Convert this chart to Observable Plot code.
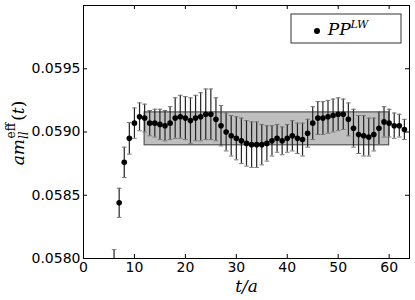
<!DOCTYPE html>
<html>
<head>
<meta charset="utf-8">
<script src="https://cdn.jsdelivr.net/npm/d3@7"></script>
<script src="https://cdn.jsdelivr.net/npm/@observablehq/plot@0.6"></script>
<style>
  body { margin: 0; background: white; }
</style>
</head>
<body>
<div id="chart"></div>
<script>
// Time slices t/a
const tValues = [6,7,8,9,10,11,12,13,14,15,16,17,18,19,20,21,22,23,24,25,26,27,28,29,30,31,32,33,34,35,36,37,38,39,40,41,42,43,44,45,46,47,48,49,50,51,52,53,54,55,56,57,58,59,60,61,62,63];
// Effective mass a m_ll^eff(t)
const meffValues = [0.05795,0.05844,0.05876,0.05895,0.05907,0.05912,0.05911,0.05907,0.05907,0.05906,0.05905,0.05907,0.05911,0.05912,0.05911,0.05909,0.05911,0.05912,0.05914,0.05914,0.05910,0.05905,0.05900,0.05897,0.05895,0.05893,0.05891,0.05890,0.05890,0.05890,0.05891,0.05893,0.05895,0.05893,0.05895,0.05897,0.05895,0.05894,0.05899,0.05907,0.05911,0.05911,0.05912,0.05913,0.05914,0.05914,0.05910,0.05903,0.05898,0.05897,0.05896,0.05898,0.05903,0.05908,0.05907,0.05905,0.05905,0.05902];
// Statistical errors
const errValues = [0.00012,0.000115,0.00012,0.000125,0.00012,0.00011,0.00011,0.00010,0.00011,0.00012,0.00012,0.00013,0.00016,0.00017,0.00017,0.00018,0.00018,0.00019,0.00020,0.00020,0.00017,0.00016,0.00015,0.00016,0.00017,0.00018,0.00018,0.00018,0.00018,0.00016,0.00014,0.00012,0.00011,0.00011,0.00011,0.00012,0.00012,0.00013,0.00011,0.00013,0.00013,0.00013,0.00013,0.00013,0.00013,0.00012,0.00013,0.00015,0.00015,0.00016,0.00015,0.00013,0.00013,0.00012,0.00011,0.00010,0.00009,0.00008];
// Fit band (plateau range and fitted value ± error)
const fitRange = [12, 60];
const fitValue = 0.059025;
const fitError = 0.00013;
// Axis ticks
const xTicks = [0,10,20,30,40,50,60];
const yTicks = [0.0580,0.0585,0.0590,0.0595];
const xDomain = [0, 64];
const yDomain = [0.0580, 0.0600];
const legendLabel = "PP";
const legendSup = "LW";

const data = tValues.map((t, i) => ({t, m: meffValues[i], e: errValues[i]}));
const band = [{x1: fitRange[0], x2: fitRange[1], y1: fitValue - fitError, y2: fitValue + fitError}];
const capHalf = 0.45;

const plot = Plot.plot({
  width: 415,
  height: 300,
  marginLeft: 83,
  marginRight: 6,
  marginTop: 5,
  marginBottom: 42,
  style: {fontFamily: "DejaVu Sans", fontSize: "14px", background: "white", color: "black"},
  x: {domain: xDomain, ticks: xTicks, tickFormat: d => String(d)},
  y: {domain: yDomain, ticks: yTicks, tickFormat: d => d.toFixed(4)},
  marks: [
    Plot.rect(band, {x1: "x1", x2: "x2", y1: "y1", y2: "y2", fill: "#bfbfbf", stroke: "#555", strokeWidth: 1.2}),
    Plot.ruleX(data, {x: "t", y1: d => d.m - d.e, y2: d => d.m + d.e, stroke: "#222", strokeWidth: 1.2, clip: true}),
    Plot.link(data, {x1: d => d.t - capHalf, x2: d => d.t + capHalf, y1: d => d.m + d.e, y2: d => d.m + d.e, stroke: "#777", strokeWidth: 1, clip: true}),
    Plot.link(data, {x1: d => d.t - capHalf, x2: d => d.t + capHalf, y1: d => d.m - d.e, y2: d => d.m - d.e, stroke: "#777", strokeWidth: 1, clip: true}),
    Plot.dot(data, {x: "t", y: "m", r: 2.8, fill: "black", stroke: "none", clip: true}),
    // inward ticks on all four sides
    Plot.ruleX(xTicks, {x: d => d, y1: yDomain[0], y2: yDomain[0] + 0.000032, stroke: "black"}),
    Plot.ruleX(xTicks, {x: d => d, y1: yDomain[1] - 0.000032, y2: yDomain[1], stroke: "black"}),
    Plot.ruleY(yTicks, {y: d => d, x1: xDomain[0], x2: xDomain[0] + 0.8, stroke: "black"}),
    Plot.ruleY(yTicks, {y: d => d, x1: xDomain[1] - 0.8, x2: xDomain[1], stroke: "black"}),
    Plot.axisX({ticks: xTicks, tickSize: 0, tickPadding: 4, label: null, tickFormat: d => String(d)}),
    Plot.axisY({ticks: yTicks, tickSize: 0, tickPadding: 3, label: null, tickFormat: d => d.toFixed(4)}),
    Plot.frame({stroke: "black", strokeWidth: 1}),
    Plot.text(["t/a"], {frameAnchor: "bottom", dy: 33, text: d => d, fontStyle: "italic", fontFamily: "DejaVu Serif", fontSize: 17, fill: "black"})
  ]
});

document.getElementById("chart").appendChild(plot);

const svg = d3.select(plot);
// Y axis label with subscript/superscript
const yl = svg.append("text")
  .attr("transform", "translate(24,133) rotate(-90)")
  .attr("text-anchor", "middle")
  .attr("font-family", "DejaVu Serif")
  .attr("font-size", 17)
  .attr("fill", "black");
yl.append("tspan").attr("font-style", "italic").text("am");
yl.append("tspan").attr("font-style", "italic").attr("font-size", 12).attr("dy", 4).text("ll");
yl.append("tspan").attr("font-size", 12).attr("dx", -7).attr("dy", -13).text("eff");
yl.append("tspan").attr("dy", 9).attr("dx", 2).text("(");
yl.append("tspan").attr("font-style", "italic").text("t");
yl.append("tspan").text(")");

// Legend
const lg = svg.append("g");
lg.append("rect").attr("x", 291).attr("y", 14).attr("width", 110).attr("height", 29)
  .attr("fill", "white").attr("stroke", "#333").attr("stroke-width", 1);
lg.append("circle").attr("cx", 317).attr("cy", 31).attr("r", 3).attr("fill", "black");
const lt = lg.append("text").attr("x", 348).attr("y", 35)
  .attr("font-family", "DejaVu Serif").attr("font-size", 17).attr("font-style", "italic").attr("fill", "black");
lt.append("tspan").text(legendLabel);
lt.append("tspan").attr("font-size", 11).attr("dy", -7).text(legendSup);
</script>
</body>
</html>
